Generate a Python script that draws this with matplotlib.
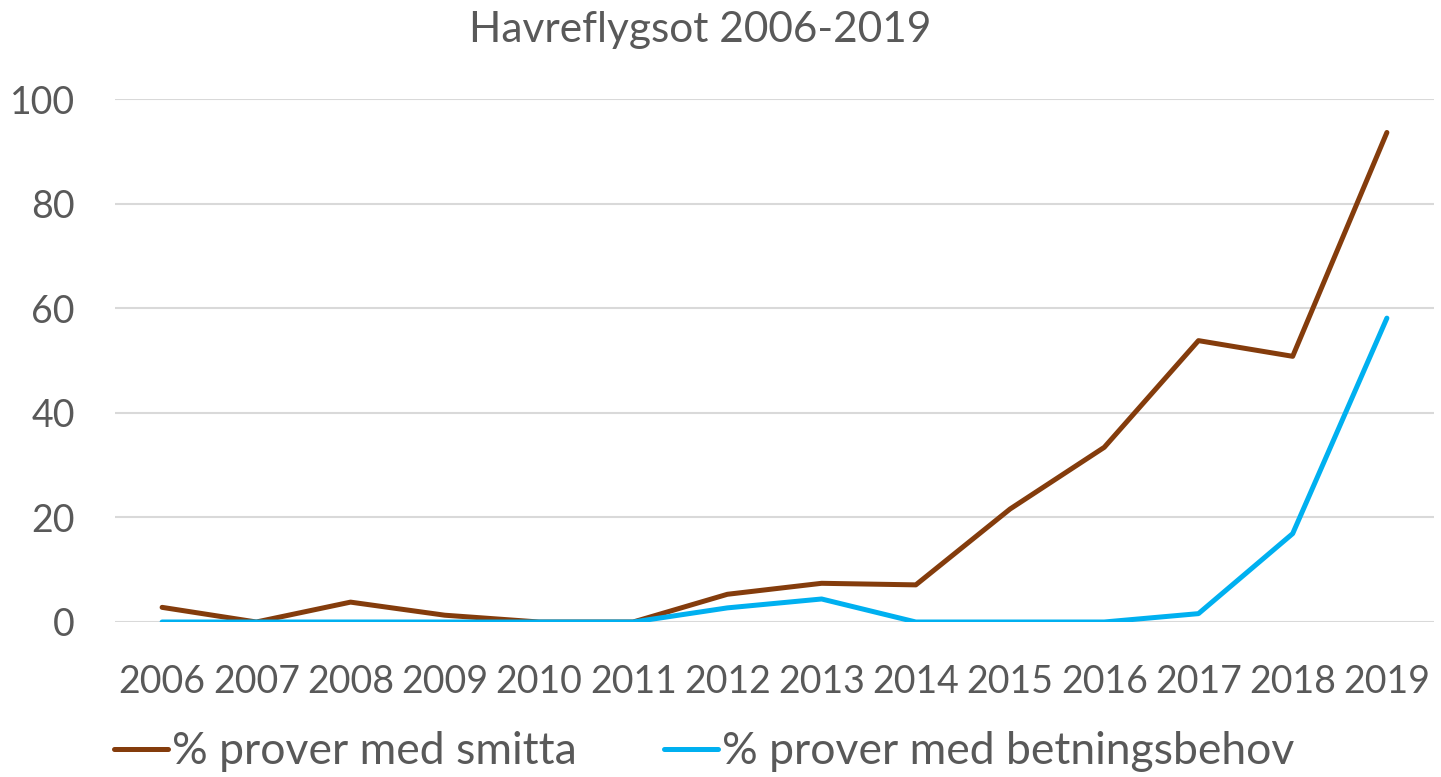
import numpy as np
import matplotlib.pyplot as plt

plt.rcParams['font.family'] = ['Lato', 'DejaVu Sans']

years = ["2006", "2007", "2008", "2009", "2010", "2011", "2012",
         "2013", "2014", "2015", "2016", "2017", "2018", "2019"]
smitta = [2.8, 0, 3.8, 1.3, 0, 0, 5.3, 7.4, 7.1, 21.6, 33.4, 53.8, 50.8, 93.6]
betning = [0, 0, 0, 0, 0, 0, 2.7, 4.4, 0, 0, 0, 1.6, 16.9, 58.1]

grey = "#595959"
fig = plt.figure(figsize=(14.41, 7.77), dpi=100)
ax = fig.add_axes([115 / 1441, 1 - 622 / 777, (1434 - 115) / 1441, (622 - 99) / 777])

x = np.arange(len(years))
ax.plot(x, smitta, color="#843C0C", lw=3.6, solid_capstyle="round",
        solid_joinstyle="round", label="% prover med smitta", zorder=3)
ax.plot(x, betning, color="#00B0F0", lw=3.6, solid_capstyle="round",
        solid_joinstyle="round", label="% prover med betningsbehov", zorder=3)

ax.set_xlim(-0.5, len(years) - 0.5)
ax.set_ylim(0, 100)
ax.set_yticks(range(0, 101, 20))
ax.set_xticks(x)
ax.set_xticklabels(years)
ax.yaxis.grid(True, color="#D9D9D9", lw=1.5)
ax.set_axisbelow(True)
for s in ax.spines.values():
    s.set_visible(False)
ax.tick_params(axis="both", length=0, labelsize=27, colors=grey)
ax.tick_params(axis="y", pad=29)
ax.tick_params(axis="x", pad=30)

fig.text(700 / 1441, 1 - 30 / 777, "Havreflygsot 2006-2019", ha="center",
         va="center", fontsize=30.5, color=grey)

leg = fig.legend(loc="center", bbox_to_anchor=(704 / 1441, 1 - 752 / 777), ncol=2,
                 frameon=False, fontsize=32, handlelength=1.22,
                 handletextpad=0.08, columnspacing=1.96, borderaxespad=0,
                 borderpad=0)
for t in leg.get_texts():
    t.set_color(grey)

fig.savefig("out.png", dpi=100)
